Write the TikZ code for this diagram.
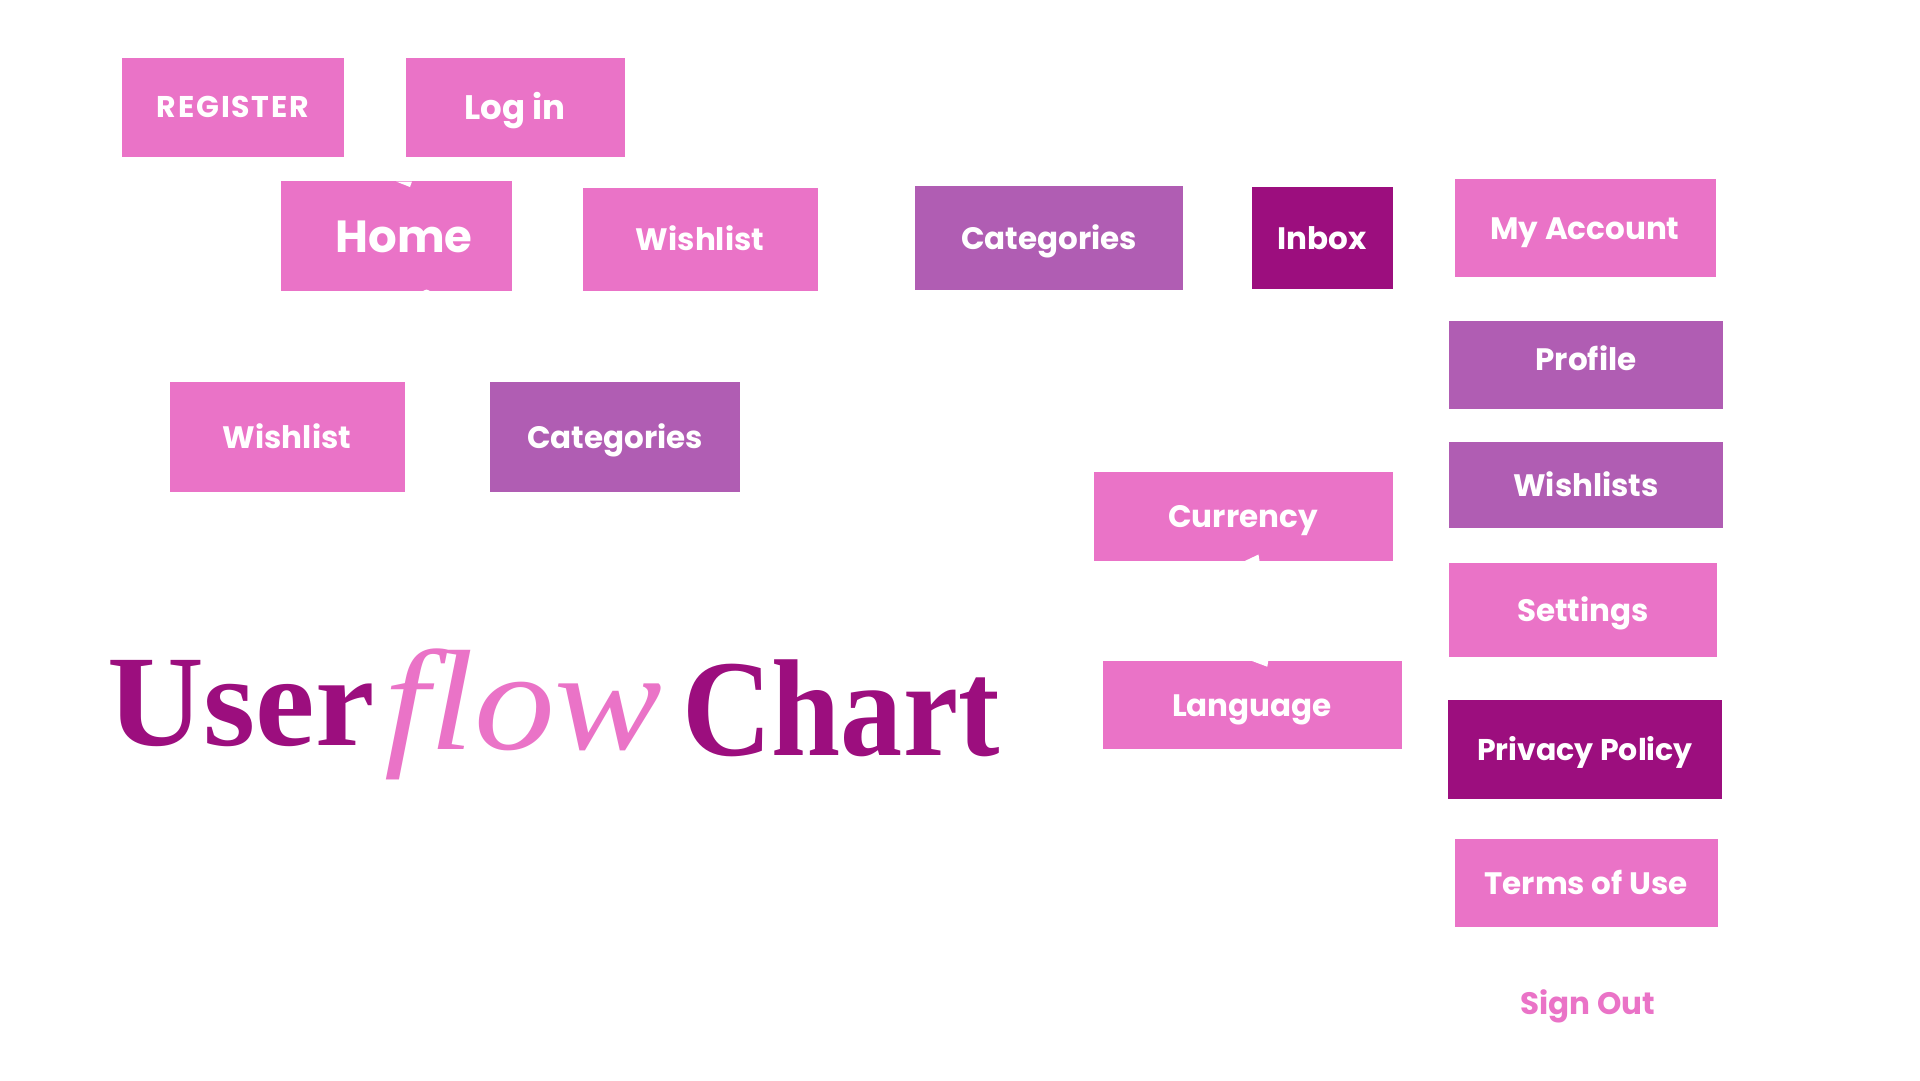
\documentclass[tikz,border=0pt]{standalone}
\usepackage{fontspec}
\newfontfamily\boxfont{Poppins}
\newfontfamily\titlefont{Liberation Serif}
\definecolor{pinkc}{HTML}{EA73C7}
\definecolor{purplec}{HTML}{B05DB3}
\definecolor{darkc}{HTML}{9C0E7E}
\tikzset{
  flowbox/.style={rectangle, inner sep=0pt, text=white, font=\boxfont\bfseries\fontsize{31}{31}\selectfont, text height=22pt, text depth=0pt},
  pinkbox/.style={flowbox, fill=pinkc},
  purplebox/.style={flowbox, fill=purplec},
  darkbox/.style={flowbox, fill=darkc},
  notch/.style={fill=white, draw=none},
  titleword/.style={anchor=base west, inner sep=0pt}
}
\begin{document}
\begin{tikzpicture}[x=1pt,y=-1pt]
\useasboundingbox[fill=white] (0,0) rectangle (1920,1080);
% top row
\node[pinkbox, minimum width=222, minimum height=99, font=\boxfont\bfseries\fontsize{30}{30}\selectfont\addfontfeatures{LetterSpace=6}, text height=21pt] (register) at (233,107) {REGISTER};
\node[pinkbox, minimum width=219, minimum height=99, font=\boxfont\bfseries\fontsize{34}{34}\selectfont, text height=24pt] (login) at (515,107) {Log in};
\node[pinkbox, minimum width=231, minimum height=110, font=\boxfont\bfseries\fontsize{45}{45}\selectfont, text height=32pt] (home) at (396,236) {\hspace*{16pt}Home};
\node[pinkbox, minimum width=235, minimum height=103] (wish1) at (700,239) {Wishlist};
\node[purplebox, minimum width=268, minimum height=104] (cat1) at (1049,238) {Categories};
\node[darkbox, minimum width=141, minimum height=102] (inbox) at (1322,238) {Inbox};
% second row
\node[pinkbox, minimum width=235, minimum height=110] (wish2) at (287,437) {Wishlist};
\node[purplebox, minimum width=250, minimum height=110] (cat2) at (615,437) {Categories};
% currency / language
\node[pinkbox, minimum width=299, minimum height=89] (currency) at (1243,516) {Currency};
\node[pinkbox, minimum width=299, minimum height=88] (language) at (1252,705) {Language};
% right column
\node[pinkbox, minimum width=261, minimum height=98] (account) at (1585,228) {My Account};
\node[purplebox, minimum width=274, minimum height=88, text depth=12pt] (profile) at (1586,365) {Profile};
\node[purplebox, minimum width=274, minimum height=86] (wishlists) at (1586,485) {Wishlists};
\node[pinkbox, minimum width=268, minimum height=94] (settings) at (1583,610) {Settings};
\node[darkbox, minimum width=274, minimum height=99, font=\boxfont\bfseries\fontsize{30}{30}\selectfont] (privacy) at (1585,749) {Privacy Policy};
\node[pinkbox, minimum width=263, minimum height=88] (terms) at (1586,883) {Terms of Use};
\node[inner sep=0pt, text=pinkc, font=\boxfont\bfseries\fontsize{31}{31}\selectfont, text height=22pt, text depth=0pt] (signout) at (1588,1003) {Sign Out};
% small white notches
\fill[notch] (396,181.5) -- (410,187) -- (412,181.5) -- cycle;
\fill[notch] (421.5,291.6) -- (426.5,289.5) -- (431.5,291.6) -- cycle;
\fill[notch] (1245,560.9) -- (1258.5,554.5) -- (1259.5,560.9) -- cycle;
\fill[notch] (1251.5,660.8) -- (1267.3,666.7) -- (1268.3,660.8) -- cycle;
% title
\node[titleword, text=darkc, font=\titlefont\bfseries\fontsize{130}{130}\selectfont, xscale=1.03] (tuser) at (107,745) {User};
\node[titleword, text=pinkc, font=\titlefont\itshape\fontsize{143}{143}\selectfont, xscale=1.13] (tflow) at (384,749) {flow};
\node[titleword, text=darkc, font=\titlefont\bfseries\fontsize{138}{138}\selectfont, xscale=0.9] (tchart) at (682,755) {Chart};
\end{tikzpicture}
\end{document}
